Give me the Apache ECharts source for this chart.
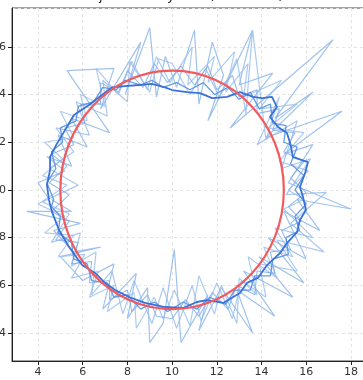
<!DOCTYPE html>
<html>
<head>
<meta charset="utf-8">
<script src="https://cdn.jsdelivr.net/npm/echarts@6/dist/echarts.min.js"></script>
<style>
  html, body { margin: 0; padding: 0; background: #fff; }
  #chart { width: 363px; height: 380px; }
</style>
</head>
<body>
<div id="chart"></div>
<script>
// Raw noisy trajectory, first pass (clockwise from the left side)
const noisyA = [
  [4.5,9.6],[4.0,10.3],[5.2,10.8],[4.4,11.4],[5.5,11.0],[4.9,12.3],[6.2,11.8],[5.5,13.0],
  [7.2,12.4],[5.3,15.0],[7.4,15.1],[6.8,13.4],[8.6,16.2],[7.9,14.0],[9.0,16.8],[9.3,13.9],
  [9.7,15.6],[10.2,14.3],[11.0,16.7],[11.2,13.6],[11.8,16.2],[12.3,14.8],[11.6,12.9],[13.6,16.7],
  [13.0,14.4],[14.5,14.9],[12.6,12.6],[17.2,16.3],[14.6,13.0],[16.3,14.1],[14.2,12.2],[17.6,13.3],
  [15.0,11.5],[16.3,11.9],[15.2,10.3],[18.0,9.2],[15.6,9.6],[16.6,8.3],[15.0,9.1],[16.0,7.1],
  [14.3,8.0],[15.9,6.1],[13.9,7.2],[15.4,5.5],[13.2,6.6],[14.6,4.7],[12.9,5.8],[13.6,4.0],
  [12.2,5.9],[11.2,4.1],[11.6,5.6],[10.4,3.6],[10.1,7.5],[9.6,4.4],[9.0,3.6],[8.9,5.9],
  [8.0,4.6],[8.4,6.5],[7.2,5.3],[6.9,5.0],[7.4,6.9],[6.0,6.2],[5.0,7.2],[6.8,7.6],
  [5.6,7.4],[4.7,8.3],[5.9,8.6],[3.5,9.1],[5.5,9.1],[4.6,9.6]
];

// Raw noisy trajectory, second pass (counter-clockwise from the right side)
const noisyB = [
  [15.2,10.0],[16.1,10.8],[14.8,11.2],[15.9,12.4],[14.3,12.6],[15.6,13.6],[13.9,13.4],[14.9,14.6],
  [13.2,13.9],[13.4,15.3],[12.4,14.1],[12.8,15.8],[11.6,14.5],[11.9,15.6],[10.7,14.4],[10.9,16.0],
  [9.9,14.5],[9.3,15.6],[8.9,14.2],[8.2,15.4],[7.6,14.0],[6.6,15.1],[7.0,13.5],[5.9,14.0],
  [6.2,12.9],[5.0,13.3],[5.6,12.2],[4.3,12.0],[5.1,11.3],[4.2,10.6],[5.3,10.2],[4.0,9.4],
  [5.2,8.9],[4.3,8.2],[5.6,8.1],[4.9,7.2],[6.1,7.3],[5.5,6.3],[6.7,6.6],[6.3,5.5],
  [7.4,6.0],[7.1,4.9],[8.3,5.7],[8.4,4.2],[9.2,5.5],[9.6,4.6],[10.1,5.8],[10.8,4.3],
  [11.2,6.4],[11.9,4.8],[12.2,6.0],[12.9,4.4],[13.0,6.3],[13.8,5.6],[13.4,7.2],[14.7,6.3],
  [14.1,7.6],[15.4,7.2],[14.6,8.4],[16.3,8.0],[15.0,9.2],[15.9,9.6],[15.2,10.0]
];

// Raw noisy trajectory, third pass (clockwise from the top)
const noisyC = [
  [10.0,15.3],[10.8,14.0],[11.5,15.1],[12.1,13.9],[12.9,15.5],[13.3,13.2],[13.6,16.7],[14.2,12.1],
  [14.8,13.9],[13.8,11.9],[15.6,12.9],[14.9,10.9],[16.2,11.3],[15.1,9.8],[16.9,9.9],[15.3,8.6],
  [16.8,7.4],[14.7,7.9],[15.6,6.6],[13.9,6.9],[14.2,5.5],[13.1,6.2],[12.7,4.6],[12.0,6.1],
  [11.3,4.5],[10.9,6.0],[10.2,4.2],[9.6,5.9],[9.1,4.4],[8.3,6.2],[7.8,4.8],[7.3,6.6],
  [6.4,5.6],[6.6,7.4],[5.5,6.8],[5.9,8.2],[4.6,7.8],[5.4,9.0],[4.2,9.5],[5.8,10.2],
  [4.5,10.9],[5.6,11.6],[4.8,12.6],[6.3,12.3],[5.7,13.7],[7.1,13.1],[6.9,14.6],[8.0,13.7],
  [8.1,15.4],[9.0,14.1],[9.4,15.5],[10.0,15.3]
];

// Raw noisy trajectory, fourth pass (counter-clockwise from the bottom)
const noisyD = [
  [10.0,4.6],[10.6,5.4],[11.2,4.7],[11.8,5.7],[12.5,5.0],[12.9,6.0],[13.7,5.6],[13.8,6.6],
  [14.6,6.5],[14.4,7.4],[15.3,7.5],[14.9,8.3],[15.8,8.7],[15.2,9.3],[16.0,9.9],[15.3,10.5],
  [15.9,11.2],[15.0,11.6],[15.5,12.4],[14.5,12.5],[14.8,13.4],[13.8,13.2],[13.8,14.2],[13.0,13.9],
  [12.7,14.8],[12.0,14.2],[11.6,15.2],[11.0,14.4],[10.4,15.2],[9.8,14.5],[9.2,15.3],[8.7,14.3],
  [8.0,15.0],[7.6,14.1],[6.8,14.5],[6.8,13.6],[5.9,13.6],[6.1,12.8],[5.2,12.6],[5.6,11.9],
  [4.6,11.5],[5.3,11.0],[4.5,10.3],[5.4,9.8],[4.6,9.1],[5.4,8.7],[4.8,7.9],[5.8,7.8],
  [5.5,6.9],[6.4,7.0],[6.3,6.1],[7.2,6.2],[7.2,5.4],[8.0,5.8],[8.2,4.9],[8.9,5.6],
  [9.3,4.7],[10.0,4.6]
];

// Partially smoothed estimate
const smoothMid = [
  [4.7,9.6],[4.4,10.3],[4.8,10.9],[4.6,11.6],[5.1,12.0],[5.0,12.6],[5.7,12.9],[5.8,13.5],
  [6.5,13.7],[6.9,14.3],[7.5,14.2],[7.9,14.6],[8.6,14.4],[9.1,14.6],[9.6,14.3],[10.2,14.5],
  [10.8,14.2],[11.4,14.5],[11.9,14.0],[12.5,14.3],[13.0,13.8],[13.5,14.1],[13.9,13.4],[14.4,13.6],
  [14.5,12.8],[15.1,12.7],[15.0,12.0],[15.6,11.8],[15.3,11.1],[15.9,10.6],[15.5,10.0],[16.0,9.4],
  [15.5,8.9],[15.7,8.3],[15.1,8.0],[15.2,7.3],[14.5,7.1],[14.4,6.4],[13.7,6.4],[13.5,5.8],
  [12.8,5.8],[12.4,5.2],[11.7,5.5],[11.1,5.0],[10.5,5.3],[9.8,4.9],[9.2,5.3],[8.6,5.0],
  [8.0,5.6],[7.4,5.5],[7.1,6.1],[6.4,6.2],[6.2,6.9],[5.6,7.1],[5.5,7.8],[4.9,8.2],
  [5.0,8.9],[4.6,9.3],[4.7,9.6]
];

// Final smoothed estimate
const smoothFinal = [
  [4.49,9.58],[4.40,10.21],[4.54,10.83],[4.54,11.38],[4.81,11.88],[5.21,12.51],[5.61,13.14],[6.28,13.56],
  [6.86,13.98],[7.31,14.30],[7.89,14.35],[8.52,14.40],[9.10,14.45],[9.68,14.30],[10.00,14.19],[10.67,14.10],
  [11.25,14.06],[11.79,13.85],[12.46,13.90],[13.04,14.10],[13.62,13.90],[14.02,13.85],[14.47,13.90],[14.69,13.48],
  [14.38,13.06],[14.74,12.64],[15.14,12.39],[15.28,11.97],[15.41,11.38],[16.08,11.17],[15.95,10.71],[15.72,10.12],
  [15.86,9.70],[15.99,9.16],[15.72,8.74],[15.59,8.23],[15.14,7.77],[14.83,7.35],[14.25,6.85],[13.84,6.31],
  [13.35,6.10],[13.04,5.68],[12.28,5.26],[11.56,5.38],[11.11,5.30],[10.49,5.05],[9.68,5.09],[8.79,5.26],
  [8.07,5.51],[7.45,5.80],[7.00,6.10],[6.55,6.52],[5.97,6.85],[5.39,7.61],[4.94,8.32],[4.63,9.07],
  [4.49,9.58]
];

// True path: circle given as [centerX, centerY, radius]
const truePath = [[10, 10, 5]];

const titleText = 'Trajectories by S.N. (SGD = 50)';

const chart = echarts.init(document.getElementById('chart'), null, { renderer: 'canvas' });

const axisFont = { fontFamily: 'DejaVu Sans', fontSize: 11, color: '#333' };

function lineSeries(data, color, width, opacity, z) {
  return {
    type: 'line',
    data: data,
    showSymbol: false,
    symbol: 'none',
    smooth: false,
    z: z,
    lineStyle: { color: color, width: width, opacity: opacity },
    emphasis: { disabled: true },
    silent: true
  };
}

chart.setOption({
  animation: false,
  backgroundColor: '#fff',
  title: {
    text: titleText,
    left: 'center',
    top: -10,
    padding: 0,
    textStyle: { fontFamily: 'DejaVu Sans', fontSize: 13, fontWeight: 'normal', color: '#222' }
  },
  grid: {
    left: 12, top: 8, right: -20, bottom: 19,
    outerBoundsMode: 'none',
    containLabel: false,
    show: true, borderColor: '#444', borderWidth: 1, backgroundColor: 'transparent'
  },
  xAxis: {
    type: 'value',
    min: 2.837, max: 19.437,
    splitNumber: 8, minInterval: 2, maxInterval: 2,
    axisLine: { show: true, onZero: false, lineStyle: { color: '#222', width: 1 } },
    axisTick: { show: true, length: 4, lineStyle: { color: '#222' } },
    axisLabel: Object.assign({ margin: 6, showMinLabel: false, showMaxLabel: false }, axisFont),
    splitLine: { show: true, lineStyle: { color: '#e4e4e4', type: [3, 3], width: 1 } }
  },
  yAxis: {
    type: 'value',
    min: 2.826, max: 17.63,
    splitNumber: 7, minInterval: 2, maxInterval: 2,
    axisLine: { show: true, onZero: false, lineStyle: { color: '#222', width: 1 } },
    axisTick: { show: true, length: 4, lineStyle: { color: '#222' } },
    axisLabel: Object.assign({ margin: 6, showMinLabel: false, showMaxLabel: false }, axisFont),
    splitLine: { show: true, lineStyle: { color: '#e4e4e4', type: [3, 3], width: 1 } }
  },
  series: [
    lineSeries(noisyA, '#8fb7ea', 1.2, 0.85, 1),
    lineSeries(noisyB, '#9fc3ef', 1.2, 0.85, 2),
    lineSeries(noisyC, '#96bcec', 1.2, 0.8, 2),
    lineSeries(noisyD, '#86b0e8', 1.1, 0.85, 2),
    lineSeries(smoothMid, '#5f95e3', 1.3, 0.95, 3),
    lineSeries(smoothFinal, '#3a72d6', 1.8, 1, 4),
    {
      type: 'custom',
      data: truePath,
      z: 5,
      silent: true,
      renderItem: function (params, api) {
        const c = api.coord([api.value(0), api.value(1)]);
        const r = api.size([api.value(2), api.value(2)]);
        return {
          type: 'ellipse',
          shape: { cx: c[0], cy: c[1], rx: r[0], ry: r[1] },
          style: { fill: 'none', stroke: '#f25a5e', lineWidth: 2.2 }
        };
      }
    }
  ]
});
</script>
</body>
</html>
